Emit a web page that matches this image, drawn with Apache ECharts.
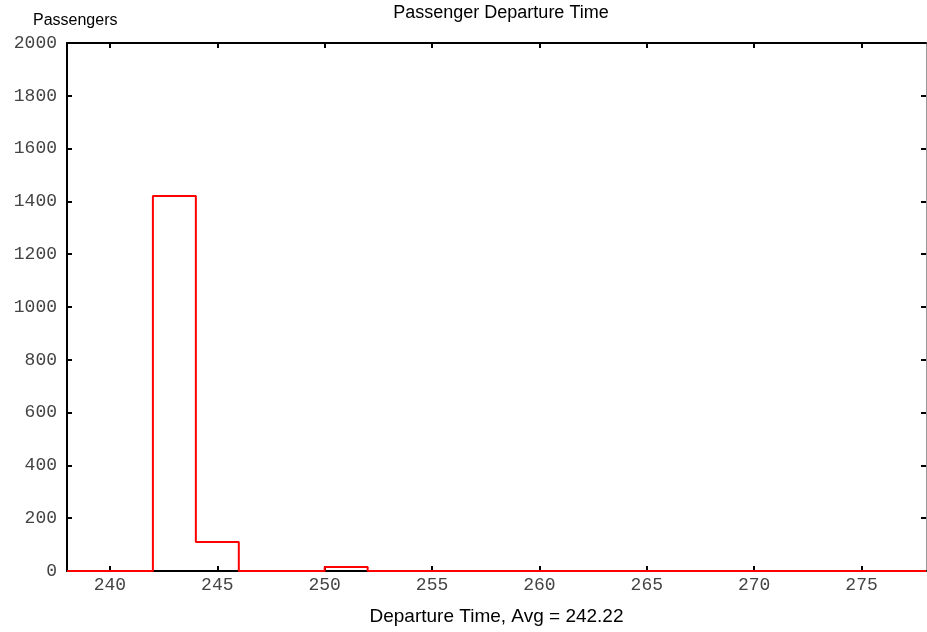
<!DOCTYPE html>
<html>
<head>
<meta charset="utf-8">
<script src="https://cdn.jsdelivr.net/npm/echarts@6/dist/echarts.min.js"></script>
<style>
html,body{margin:0;padding:0;background:#fff;}
#c{width:927px;height:632px;}
</style>
</head>
<body>
<div id="c"></div>
<script>
// Histogram bins (left edges, width 2) and passenger counts
var binStarts = [238,240,242,244,246,248,250,252,254,256,258,260,262,264,266,268,270,272,274,276];
var counts    = [0,0,1420,110,0,0,15,0,0,0,0,0,0,0,0,0,0,0,0,0];
var binEnd = 278;
var xTicks = [240,245,250,255,260,265,270,275];
var yMin = 0, yMax = 2000, yStep = 200;
var titleText = 'Passenger Departure Time';
var yName = 'Passengers';
var xName = 'Departure Time, Avg = 242.22';

var stepData = binStarts.map(function(x,i){return [x, counts[i]];});
stepData.push([binEnd, counts[counts.length-1]]);

var chart = echarts.init(document.getElementById('c'));
chart.setOption({
  animation:false,
  backgroundColor:'#fff',
  title:[
    {text:titleText, left:496, top:-1, textAlign:'center',
     textStyle:{fontFamily:'Liberation Sans', fontSize:18, fontWeight:'normal', color:'#000'}},
    {text:yName, left:28, top:8,
     textStyle:{fontFamily:'Liberation Sans', fontSize:16, fontWeight:'normal', color:'#000'}}
  ],
  grid:{left:67, right:1, top:43, bottom:61, containLabel:false},
  xAxis:[
    {type:'value', min:238, max:binEnd, position:'bottom',
     name:xName, nameLocation:'middle', nameGap:36,
     nameTextStyle:{fontFamily:'Liberation Sans', fontSize:19, color:'#000'},
     axisLine:{show:true, onZero:false, lineStyle:{color:'#000', width:2}},
     axisTick:{show:true, inside:true, length:5, lineStyle:{color:'#000', width:2}, customValues:xTicks},
     axisLabel:{show:true, margin:5, customValues:xTicks, fontFamily:'Liberation Mono', fontSize:18, color:'#444',
       formatter:function(v){return String(v);}},
     splitLine:{show:false}},
    {type:'value', min:238, max:binEnd, position:'top',
     axisLine:{show:true, onZero:false, lineStyle:{color:'#000', width:2}},
     axisTick:{show:true, inside:true, length:5, lineStyle:{color:'#000', width:2}, customValues:xTicks},
     axisLabel:{show:false}, splitLine:{show:false}}
  ],
  yAxis:[
    {type:'value', min:yMin, max:yMax, interval:yStep, position:'left',
     axisLine:{show:true, onZero:false, lineStyle:{color:'#000', width:2}},
     axisTick:{show:true, inside:true, length:5, lineStyle:{color:'#000', width:2}},
     axisLabel:{show:true, margin:10, fontFamily:'Liberation Mono', fontSize:18, color:'#444',
       formatter:function(v){return String(v);}},
     splitLine:{show:false}},
    {type:'value', min:yMin, max:yMax, interval:yStep, position:'right',
     axisLine:{show:true, onZero:false, lineStyle:{color:'#999', width:1}},
     axisTick:{show:true, inside:true, length:5, lineStyle:{color:'#000', width:2}},
     axisLabel:{show:false}, splitLine:{show:false}}
  ],
  series:[{
    type:'line', step:'end', data:stepData, symbol:'none',
    xAxisIndex:0, yAxisIndex:0,
    lineStyle:{color:'#ff0000', width:2},
    z:5
  }]
});
</script>
</body>
</html>
